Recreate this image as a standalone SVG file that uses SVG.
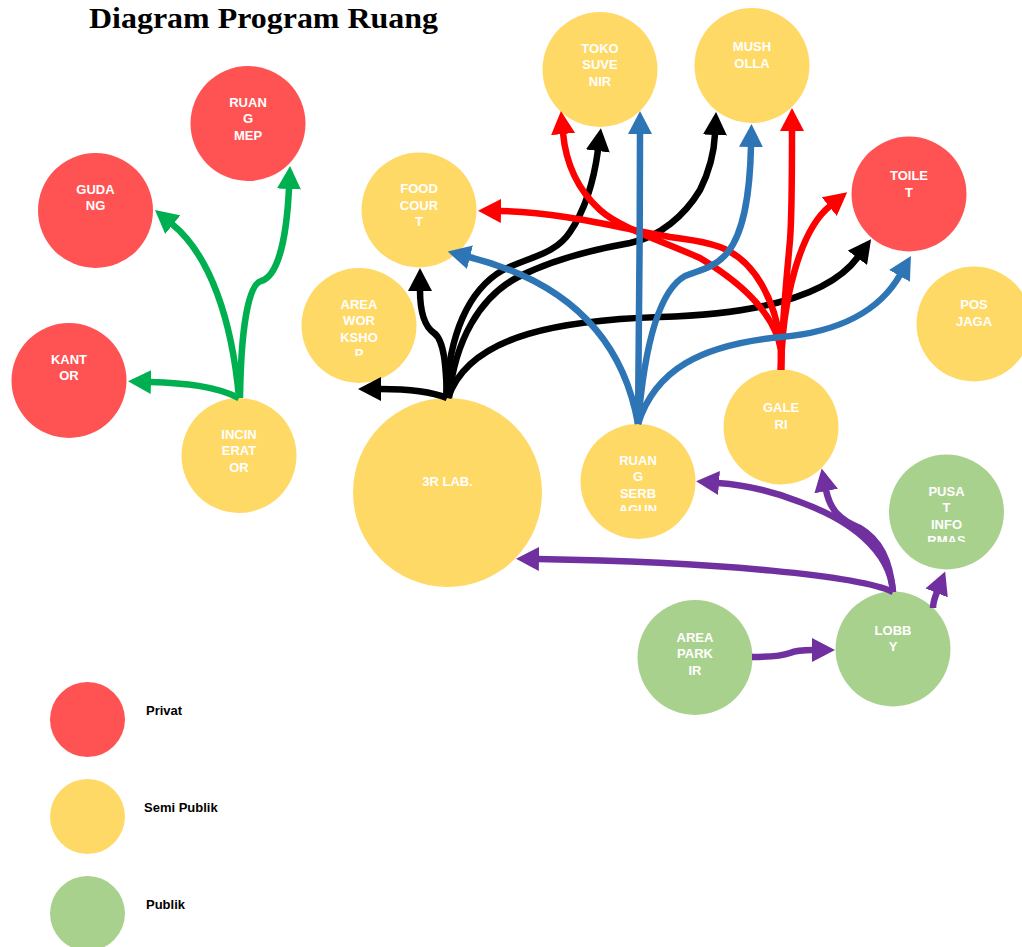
<svg xmlns="http://www.w3.org/2000/svg" width="1022" height="947" viewBox="0 0 1022 947">
<style>
.priv{fill:#FF5252}
.semi{fill:#FFD966}
.pub{fill:#A9D18E}
.lbl{font-family:"Liberation Sans",Arial,sans-serif;font-weight:bold;font-size:13px;fill:#FFFFFF;text-anchor:middle}
.leg{font-family:"Liberation Sans",Arial,sans-serif;font-weight:bold;font-size:13px;fill:#000000}
.title{font-family:"Liberation Serif","Times New Roman",serif;font-weight:bold;font-size:30px;fill:#000000}
.c{fill:none;stroke-width:6.5;stroke-linecap:butt;stroke-linejoin:round}
.g{stroke:#00B050;marker-end:url(#mg)}
.k{stroke:#000000;marker-end:url(#mk)}
.r{stroke:#FF0000;marker-end:url(#mr)}
.b{stroke:#2E75B6;marker-end:url(#mb)}
.p{stroke:#7030A0;marker-end:url(#mp)}
</style>
<defs>
<marker id="mg" markerUnits="userSpaceOnUse" viewBox="0 0 24 24" markerWidth="24" markerHeight="24" refX="1" refY="12" orient="auto"><path d="M0,0 L23,12 L0,24 z" fill="#00B050"/></marker>
<marker id="mk" markerUnits="userSpaceOnUse" viewBox="0 0 24 24" markerWidth="24" markerHeight="24" refX="1" refY="12" orient="auto"><path d="M0,0 L23,12 L0,24 z" fill="#000000"/></marker>
<marker id="mr" markerUnits="userSpaceOnUse" viewBox="0 0 24 24" markerWidth="24" markerHeight="24" refX="1" refY="12" orient="auto"><path d="M0,0 L23,12 L0,24 z" fill="#FF0000"/></marker>
<marker id="mb" markerUnits="userSpaceOnUse" viewBox="0 0 24 24" markerWidth="24" markerHeight="24" refX="1" refY="12" orient="auto"><path d="M0,0 L23,12 L0,24 z" fill="#2E75B6"/></marker>
<marker id="mp" markerUnits="userSpaceOnUse" viewBox="0 0 24 24" markerWidth="24" markerHeight="24" refX="1" refY="12" orient="auto"><path d="M0,0 L23,12 L0,24 z" fill="#7030A0"/></marker>
<clipPath id="clipWork"><rect x="290" y="260" width="140" height="96"/></clipPath>
<clipPath id="clipSerb"><rect x="570" y="415" width="140" height="96"/></clipPath>
<clipPath id="clipPusat"><rect x="880" y="445" width="140" height="97"/></clipPath>
</defs>

<text class="title" x="89" y="27.5" textLength="349" lengthAdjust="spacingAndGlyphs">Diagram Program Ruang</text>

<g id="node-ruang-mep"><circle class="priv" cx="248" cy="123.5" r="57.5"/><text class="lbl"><tspan x="248" y="106.5">RUAN</tspan><tspan x="248" y="123">G</tspan><tspan x="248" y="139.5">MEP</tspan></text></g>
<g id="node-gudang"><circle class="priv" cx="95.5" cy="210.5" r="57.5"/><text class="lbl"><tspan x="95.5" y="193.5">GUDA</tspan><tspan x="95.5" y="210">NG</tspan></text></g>
<g id="node-kantor"><circle class="priv" cx="69" cy="380.5" r="57.5"/><text class="lbl"><tspan x="69" y="363.5">KANT</tspan><tspan x="69" y="380">OR</tspan></text></g>
<g id="node-incinerator"><circle class="semi" cx="239" cy="455.5" r="57.5"/><text class="lbl"><tspan x="239" y="438.5">INCIN</tspan><tspan x="239" y="455">ERAT</tspan><tspan x="239" y="471.5">OR</tspan></text></g>
<g id="node-food-court"><circle class="semi" cx="419" cy="210" r="57.5"/><text class="lbl"><tspan x="419" y="193">FOOD</tspan><tspan x="419" y="209.5">COUR</tspan><tspan x="419" y="226">T</tspan></text></g>
<g id="node-area-workshop"><circle class="semi" cx="359" cy="325.5" r="57.5"/><text class="lbl" clip-path="url(#clipWork)"><tspan x="359" y="308.5">AREA</tspan><tspan x="359" y="325">WOR</tspan><tspan x="359" y="341.5">KSHO</tspan><tspan x="359" y="358">P</tspan></text></g>
<g id="node-3r-lab"><circle class="semi" cx="447.5" cy="492.5" r="94.5"/><text class="lbl" x="447.5" y="486">3R LAB.</text></g>
<g id="node-toko-suvenir"><circle class="semi" cx="600" cy="69.5" r="57.5"/><text class="lbl"><tspan x="600" y="52.5">TOKO</tspan><tspan x="600" y="69">SUVE</tspan><tspan x="600" y="85.5">NIR</tspan></text></g>
<g id="node-musholla"><circle class="semi" cx="752" cy="65.5" r="57.5"/><text class="lbl"><tspan x="752" y="51">MUSH</tspan><tspan x="752" y="67.5">OLLA</tspan></text></g>
<g id="node-toilet"><circle class="priv" cx="909" cy="194" r="57.5"/><text class="lbl"><tspan x="909" y="180">TOILE</tspan><tspan x="909" y="196.5">T</tspan></text></g>
<g id="node-pos-jaga"><circle class="semi" cx="974" cy="324" r="57.5"/><text class="lbl"><tspan x="974" y="309">POS</tspan><tspan x="974" y="325.5">JAGA</tspan></text></g>
<g id="node-galeri"><circle class="semi" cx="781" cy="427" r="57.5"/><text class="lbl"><tspan x="781" y="412">GALE</tspan><tspan x="781" y="428.5">RI</tspan></text></g>
<g id="node-ruang-serbaguna"><circle class="semi" cx="638" cy="481.5" r="57.5"/><text class="lbl" clip-path="url(#clipSerb)"><tspan x="638" y="464.5">RUAN</tspan><tspan x="638" y="481">G</tspan><tspan x="638" y="497.5">SERB</tspan><tspan x="638" y="514">AGUN</tspan></text></g>
<g id="node-pusat-informasi"><circle class="pub" cx="946.5" cy="512" r="57.5"/><text class="lbl" clip-path="url(#clipPusat)"><tspan x="946.5" y="495.5">PUSA</tspan><tspan x="946.5" y="512">T</tspan><tspan x="946.5" y="528.5">INFO</tspan><tspan x="946.5" y="545">RMAS</tspan></text></g>
<g id="node-area-parkir"><circle class="pub" cx="695" cy="657.5" r="57.5"/><text class="lbl"><tspan x="695" y="641.5">AREA</tspan><tspan x="695" y="658">PARK</tspan><tspan x="695" y="674.5">IR</tspan></text></g>
<g id="node-lobby"><circle class="pub" cx="893" cy="649" r="57.5"/><text class="lbl"><tspan x="893" y="634.5">LOBB</tspan><tspan x="893" y="651">Y</tspan></text></g>

<g id="legend">
<g id="legend-privat"><circle class="priv" cx="87.5" cy="719.5" r="37.5"/><text class="leg" x="146" y="715">Privat</text></g>
<g id="legend-semi-publik"><circle class="semi" cx="87.5" cy="816.5" r="37.5"/><text class="leg" x="144" y="812">Semi Publik</text></g>
<g id="legend-publik"><circle class="pub" cx="87.5" cy="913.5" r="37.5"/><text class="leg" x="146" y="909">Publik</text></g>
</g>

<g id="connectors">
<path class="c g" d="M239,398 C215,386 185,383 150,382"/>
<path class="c g" d="M239,398 C232,320 210,255 172,224"/>
<path class="c g" d="M240,398 C241,330 248,285 261,281 C280,276 287,230 289,188"/>

<path class="c k" d="M447,398 C430,391 405,389 380,389"/>
<path class="c k" d="M447,398 C446,365 444,340 434,333 C424,326 420,310 420,290"/>
<path class="c k" d="M446,398 C449,335 468,290 503,270 C528,257 555,255 570,232 C585,210 594,180 598,150"/>
<path class="c k" d="M449,398 C455,340 480,297 518,277 C548,262 590,250 630,243 C660,237 685,215 700,190 C709,172 714,155 715,134"/>
<path class="c k" d="M448,398 C470,332 570,320 660,317 C760,314 830,295 858,257"/>

<path class="c r" d="M781,370 L781,350 C775,315 745,285 700,258 C660,240 620,228 600,210 C578,190 566,165 563,133"/>
<path class="c r" d="M781,370 L781,345 C775,300 755,260 720,247 C700,240 690,240 670,237 C620,228 560,212 500,211"/>
<path class="c r" d="M781,370 C782,320 787,275 790,240 C792,215 792,175 792,130"/>
<path class="c r" d="M781,370 C782,300 800,230 830,206"/>

<path class="c b" d="M638,424 C625,350 580,285 469,257"/>
<path class="c b" d="M638,424 C639,330 640,230 640,133"/>
<path class="c b" d="M638,424 C645,340 660,290 685,276 C700,270 715,268 728,252 C745,230 750,190 751,146"/>
<path class="c b" d="M638,424 C655,370 700,345 781,337 C840,332 880,310 900,275"/>

<path class="c p" d="M893,592 C860,576 720,562 538,559"/>
<path class="c p" d="M893,592 C890,550 850,520 800,502 C770,490 745,485 718,483"/>
<path class="c p" d="M893,592 C890,560 880,540 860,528 C840,520 830,510 826,490"/>
<path class="c p" d="M933,608 C933,602 935,597 937,592"/>
<path class="c p" d="M752,657 C770,657 782,656 790,653 C797,650 805,650 813,650"/>
</g>
</svg>
